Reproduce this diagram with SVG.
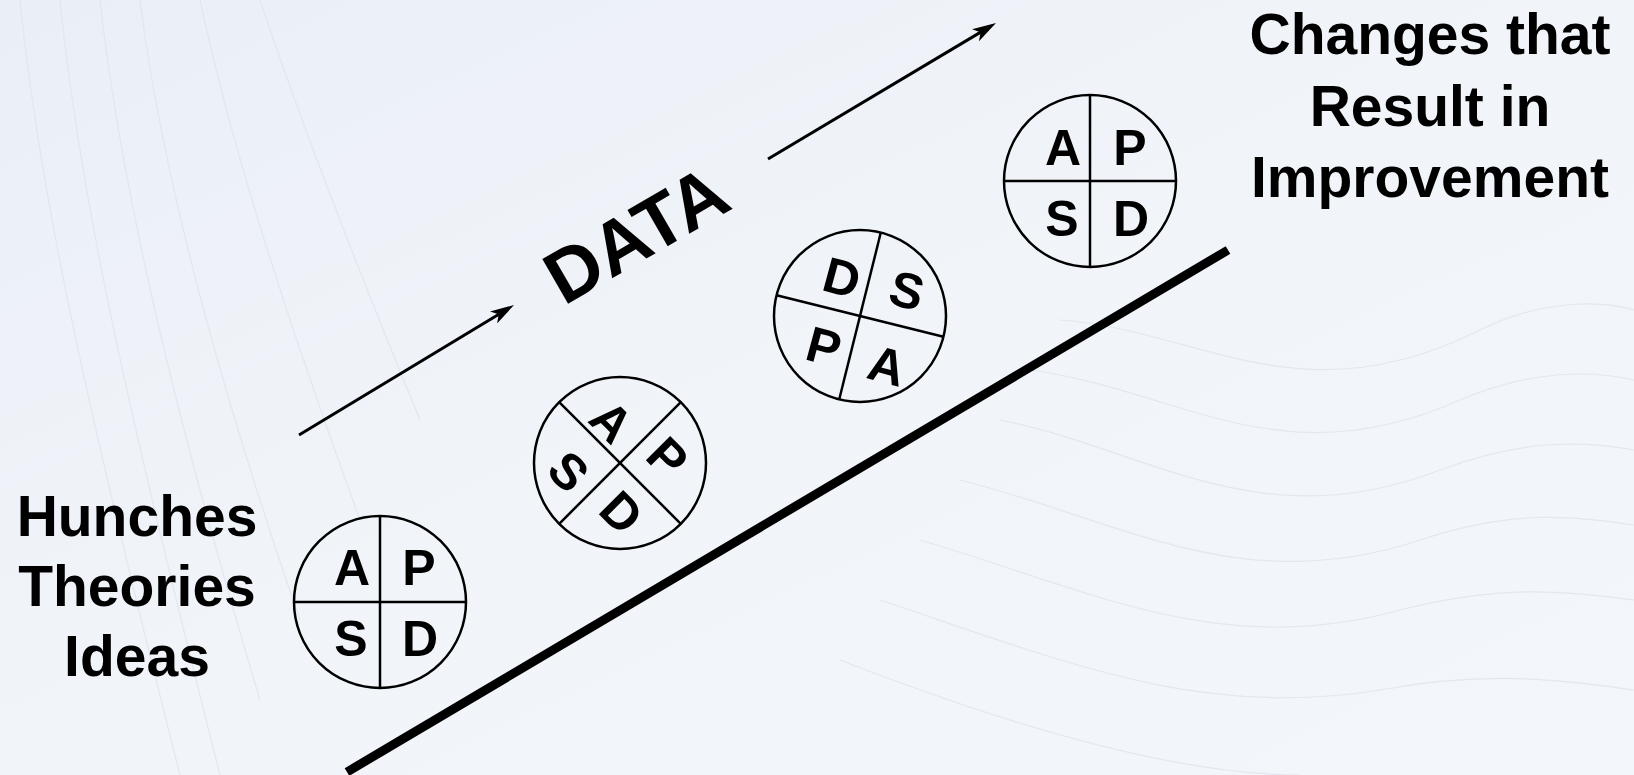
<svg xmlns="http://www.w3.org/2000/svg" width="1634" height="775" viewBox="0 0 1634 775">
  <defs>
    <linearGradient id="bg" x1="0" y1="0" x2="1" y2="1">
      <stop offset="0" stop-color="#eaeff6"/>
      <stop offset="0.5" stop-color="#f1f5fa"/>
      <stop offset="1" stop-color="#f3f6fa"/>
    </linearGradient>
    <marker id="arrow" viewBox="0 0 24 14" refX="14" refY="7" markerWidth="24" markerHeight="14" markerUnits="userSpaceOnUse" orient="auto">
      <path d="M0,0 L24,7 L0,14 L6,7 z" fill="#000"/>
    </marker>
    <style>
      .ring { fill: none; stroke: #000; stroke-width: 2.5; }
      .div { stroke: #000; stroke-width: 2.5; }
      .ltr { font-family: "Liberation Sans", Arial, sans-serif; font-weight: bold; font-size: 50px; text-anchor: middle; fill: #000; }
      .lbl { font-family: "Liberation Sans", Arial, sans-serif; font-weight: bold; text-anchor: middle; fill: #000; }
      .conn { stroke: #000; stroke-width: 3; fill: none; }
      .bgl { fill: none; stroke: #dfe5ee; stroke-width: 1.2; }
    </style>
  </defs>

  <rect x="0" y="0" width="1634" height="775" fill="url(#bg)"/>
  <g id="background-lines" opacity="0.8">
    <path class="bgl" d="M20,0 C40,200 90,420 180,775"/>
    <path class="bgl" d="M60,0 C80,200 130,420 220,775"/>
    <path class="bgl" d="M100,0 C120,180 170,400 260,700"/>
    <path class="bgl" d="M140,0 C160,160 210,360 300,620"/>
    <path class="bgl" d="M200,0 C230,140 280,300 360,520"/>
    <path class="bgl" d="M260,0 C300,120 350,250 420,420"/>
    <path class="bgl" d="M1060,320 C1200,330 1300,420 1480,330 C1540,300 1600,300 1634,310"/>
    <path class="bgl" d="M1030,370 C1180,390 1280,480 1460,400 C1530,370 1590,370 1634,380"/>
    <path class="bgl" d="M1000,420 C1150,450 1260,540 1440,470 C1520,440 1580,440 1634,450"/>
    <path class="bgl" d="M960,480 C1120,520 1240,600 1420,540 C1510,510 1570,515 1634,525"/>
    <path class="bgl" d="M920,540 C1090,590 1220,660 1400,610 C1500,585 1560,590 1634,600"/>
    <path class="bgl" d="M880,600 C1060,660 1200,720 1380,690 C1490,670 1560,680 1634,690"/>
    <path class="bgl" d="M840,660 C1020,730 1180,775 1300,775"/>
  </g>

  <g id="connectors">
    <line class="conn" x1="299" y1="435" x2="505.5" y2="310.2" marker-end="url(#arrow)"/>
    <line class="conn" x1="768" y1="159" x2="987.4" y2="28.1" marker-end="url(#arrow)"/>
    <line id="ramp" x1="347" y1="772" x2="1228" y2="250" stroke="#000" stroke-width="9"/>
  </g>

  <g id="label-data">
    <text class="lbl" font-size="75" transform="translate(649,257) rotate(-30)" x="0" y="0">DATA</text>
  </g>

  <g id="label-start">
    <text class="lbl" font-size="57" x="137" y="536">Hunches</text>
    <text class="lbl" font-size="57" x="137" y="606">Theories</text>
    <text class="lbl" font-size="57" x="137" y="676">Ideas</text>
  </g>

  <g id="label-end">
    <text class="lbl" font-size="57" x="1430" y="54">Changes that</text>
    <text class="lbl" font-size="57" x="1430" y="126">Result in</text>
    <text class="lbl" font-size="57" x="1430" y="197">Improvement</text>
  </g>

  <g id="pdsa-1" transform="translate(380,602)">
    <circle class="ring" cx="0" cy="0" r="86"/>
    <line class="div" x1="0" y1="-86" x2="0" y2="86"/>
    <line class="div" x1="-86" y1="0" x2="86" y2="0"/>
    <text class="ltr" x="-28" y="-17">A</text>
    <text class="ltr" x="39" y="-17">P</text>
    <text class="ltr" x="-29" y="54">S</text>
    <text class="ltr" x="40" y="54">D</text>
  </g>

  <g id="pdsa-2" transform="translate(620,463)">
    <circle class="ring" cx="0" cy="0" r="86"/>
    <line class="div" x1="-60.8" y1="-60.8" x2="60.8" y2="60.8"/>
    <line class="div" x1="60.8" y1="-60.8" x2="-60.8" y2="60.8"/>
    <text class="ltr" transform="translate(-8,-42) rotate(45)" y="18">A</text>
    <text class="ltr" transform="translate(48,-6) rotate(45)" y="18">P</text>
    <text class="ltr" transform="translate(-51,8) rotate(45)" y="18">S</text>
    <text class="ltr" transform="translate(2,49) rotate(45)" y="18">D</text>
  </g>

  <g id="pdsa-3" transform="translate(860,316)">
    <circle class="ring" cx="0" cy="0" r="86"/>
    <g transform="rotate(14)">
      <line class="div" x1="0" y1="-86" x2="0" y2="86"/>
      <line class="div" x1="-86" y1="0" x2="86" y2="0"/>
    </g>
    <text class="ltr" transform="translate(-18,-39) rotate(15)" y="18">D</text>
    <text class="ltr" transform="translate(47,-26) rotate(15)" y="18">S</text>
    <text class="ltr" transform="translate(-36,30) rotate(15)" y="18">P</text>
    <text class="ltr" transform="translate(27,49) rotate(15)" y="18">A</text>
  </g>

  <g id="pdsa-4" transform="translate(1090,181)">
    <circle class="ring" cx="0" cy="0" r="86"/>
    <line class="div" x1="0" y1="-86" x2="0" y2="86"/>
    <line class="div" x1="-86" y1="0" x2="86" y2="0"/>
    <text class="ltr" x="-27" y="-16">A</text>
    <text class="ltr" x="40" y="-16">P</text>
    <text class="ltr" x="-28" y="55">S</text>
    <text class="ltr" x="41" y="55">D</text>
  </g>
</svg>
